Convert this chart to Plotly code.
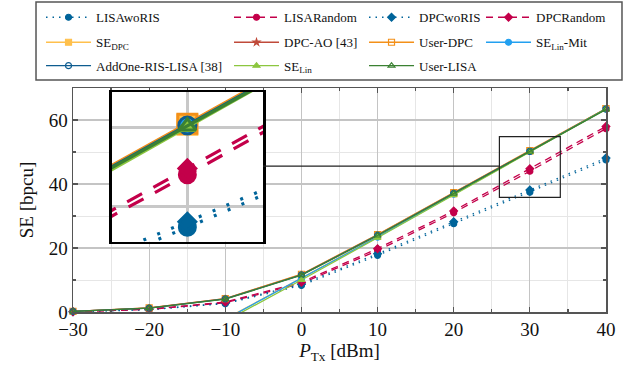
import plotly.graph_objects as go

tx_power = [-30, -20, -10, 0, 10, 20, 30, 40]

lisa_wo_ris = [0.1, 0.7, 2.6, 8.3, 17.7, 27.6, 37.4, 47.5]
lisa_random = [0.1, 0.8, 2.9, 8.9, 19.2, 31.0, 44.0, 57.3]
dpc_wo_ris = [0.1, 0.8, 2.8, 8.7, 18.2, 28.2, 38.1, 48.1]
dpc_random = [0.1, 0.9, 3.1, 9.3, 19.8, 31.6, 44.8, 58.0]
se_dpc = [-27.7, -15.0, -2.2, 10.6, 23.6, 36.9, 50.3, 63.6]
dpc_ao = [0.2, 1.3, 4.2, 11.7, 24.1, 37.2, 50.3, 63.5]
user_dpc = [0.2, 1.3, 4.2, 11.8, 24.2, 37.3, 50.4, 63.6]
se_lin_mit = [-28.0, -15.2, -2.4, 10.4, 23.4, 36.8, 50.2, 63.5]
addone_lisa = [0.2, 1.2, 4.1, 11.6, 24.0, 37.1, 50.2, 63.4]
se_lin = [-28.6, -15.8, -3.0, 10.0, 23.2, 36.6, 50.0, 63.4]
user_lisa = [0.2, 1.2, 4.0, 11.5, 23.9, 37.0, 50.1, 63.3]

x_ticks = [-30, -20, -10, 0, 10, 20, 30, 40]
y_ticks = [0, 20, 40, 60]

BLUE = "#00649A"
CRIMSON = "#C3004A"

series = [
    # name, data, color, dash, symbol, (column, row) in legend
    ("LISAwoRIS", lisa_wo_ris, BLUE, "dot", "circle", (0, 0)),
    ("LISARandom", lisa_random, CRIMSON, "dash", "circle", (1, 0)),
    ("DPCwoRIS", dpc_wo_ris, BLUE, "dot", "diamond", (2, 0)),
    ("DPCRandom", dpc_random, CRIMSON, "dash", "diamond", (3, 0)),
    ("SE<sub>DPC</sub>", se_dpc, "#FFC04C", "solid", "square", (0, 1)),
    ("DPC-AO [43]", dpc_ao, "#C04A3A", "solid", "star", (1, 1)),
    ("User-DPC", user_dpc, "#F39019", "solid", "square-open", (2, 1)),
    ("SE<sub>Lin</sub>-Mit", se_lin_mit, "#22A0F0", "solid", "circle", (3, 1)),
    ("AddOne-RIS-LISA [38]", addone_lisa, "#0E5C8F", "solid", "circle-open", (0, 2)),
    ("SE<sub>Lin</sub>", se_lin, "#8CC63F", "solid", "triangle-up", (1, 2)),
    ("User-LISA", user_lisa, "#3B8132", "solid", "triangle-up-open", (2, 2)),
]

small_dash = {"dot": "1.5px,5px", "dash": "7px,5px", "solid": "solid"}
big_dash = {"dot": "3px,12px", "dash": "17px,13px", "solid": "solid"}
small_size = {"circle": 6, "diamond": 6, "square": 6, "star": 5, "square-open": 6,
              "circle-open": 6, "triangle-up": 6, "triangle-up-open": 6}
big_size = {"circle": 16, "diamond": 13, "square": 19, "star": 10, "square-open": 19,
            "circle-open": 17, "triangle-up": 14, "triangle-up-open": 15}

serif = "Liberation Serif"
col_x = [-0.060, 0.2927, 0.546, 0.7655]
row_y = [1.3156, 1.204, 1.0996]

fig = go.Figure()
legends = {}

for i, (name, ys, color, dash, sym, (c, r)) in enumerate(series):
    leg_id = "legend" if i == 0 else f"legend{i + 1}"
    legends[leg_id] = dict(
        x=col_x[c], y=row_y[r], xanchor="left", yanchor="middle",
        orientation="v", font=dict(family=serif, size=13, color="#111111"),
        bgcolor="rgba(0,0,0,0)", borderwidth=0, itemwidth=45,
    )
    all_nonneg = min(ys) >= 0
    fig.add_trace(go.Scatter(
        x=tx_power, y=ys, name=name, mode="lines+markers",
        line=dict(color=color, width=1.3, dash=small_dash[dash]),
        marker=dict(symbol=sym, size=small_size[sym], color=color,
                    line=dict(color=color, width=1.2)),
        legend=leg_id, xaxis="x", yaxis="y", cliponaxis=not all_nonneg,
    ))

for i, (name, ys, color, dash, sym, _) in enumerate(series):
    fig.add_trace(go.Scatter(
        x=tx_power, y=ys, name=name, mode="lines+markers",
        line=dict(color=color, width=3.2, dash=big_dash[dash]),
        marker=dict(symbol=sym, size=big_size[sym], color=color,
                    line=dict(color=color, width=3)),
        showlegend=False, xaxis="x2", yaxis="y2", hoverinfo="skip",
    ))

axis_common = dict(
    showline=True, linecolor="#555555", linewidth=1.5, mirror="ticks",
    ticks="inside", ticklen=5, tickcolor="#555555", tickwidth=1.2,
    showgrid=True, gridcolor="#c4c4c4", gridwidth=1.2, zeroline=False,
    tickfont=dict(family=serif, size=19, color="#111111"),
)

fig.update_layout(
    width=639, height=372,
    margin=dict(l=73, r=33, t=88, b=60, autoexpand=False),
    paper_bgcolor="white", plot_bgcolor="white",
    hovermode=False,
    xaxis=dict(
        domain=[0, 1], range=[-30, 40], tickvals=x_ticks,
        ticktext=[str(v).replace("-", "\u2212") for v in x_ticks],
        minor=dict(dtick=5, tick0=0, ticks="inside", ticklen=3, tickcolor="#555555",
                   showgrid=True, gridcolor="#e6e6e6", gridwidth=1),
        title=dict(text="<i>P</i><sub>Tx</sub> [dBm]", standoff=4,
                   font=dict(family=serif, size=19, color="#111111")),
        anchor="y", **axis_common,
    ),
    yaxis=dict(
        domain=[0, 1], range=[0, 70], tickvals=y_ticks,
        minor=dict(dtick=10, tick0=0, ticks="inside", ticklen=3, tickcolor="#555555",
                   showgrid=True, gridcolor="#e6e6e6", gridwidth=1),
        title=dict(text="SE [bpcu]", standoff=10,
                   font=dict(family=serif, size=19, color="#111111")),
        anchor="x", **axis_common,
    ),
    xaxis2=dict(
        domain=[0.0726, 0.3565], range=[26, 34], anchor="y2",
        showline=True, linecolor="black", linewidth=2.5, mirror=True,
        showticklabels=False, ticks="", tickvals=[30],
        showgrid=True, gridcolor="#c8c8c8", gridwidth=3, zeroline=False,
    ),
    yaxis2=dict(
        domain=[0.314, 0.982], range=[35.6, 54.4], anchor="x2",
        showline=True, linecolor="black", linewidth=2.5, mirror=True,
        showticklabels=False, ticks="", tickvals=[40, 50],
        showgrid=True, gridcolor="#c8c8c8", gridwidth=3, zeroline=False,
    ),
    shapes=[
        dict(type="rect", xref="x", yref="y", x0=26, x1=34, y0=35.8, y1=54.8,
             line=dict(color="#222222", width=1.2), layer="above"),
        dict(type="line", xref="x", yref="y", x0=-5.05, x1=26, y0=45.6, y1=45.6,
             line=dict(color="#222222", width=1.2), layer="above"),
        dict(type="rect", xref="paper", yref="paper", x0=-0.0694, x1=1.030,
             y0=1.0357, y1=1.384, line=dict(color="#555555", width=1.5)),
    ],
    **legends,
)

# remove the browser's default 8px body margin (and scrollbars) so the figure fills the window
fig.write_html(
    "out.html",
    config={"displayModeBar": False, "staticPlot": True},
    post_script=(
        "document.body.style.margin='0';"
        "document.body.style.overflow='hidden';"
        "document.documentElement.style.overflow='hidden';"
    ),
)
